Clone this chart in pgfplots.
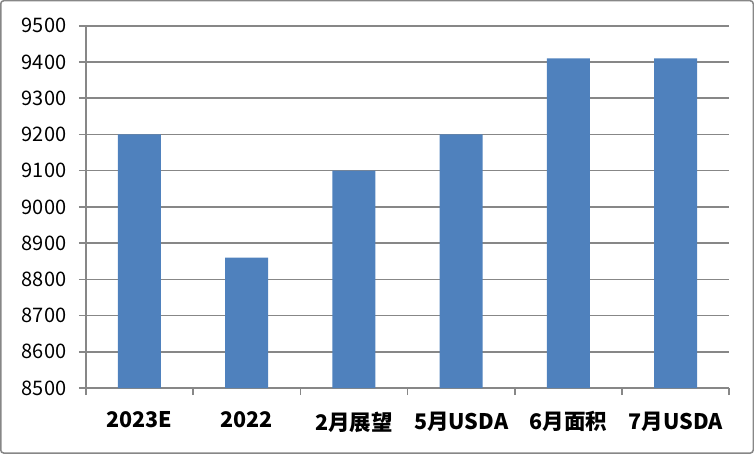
\documentclass[border=0pt]{standalone}
\usepackage{pgfplots}
\pgfplotsset{compat=1.18}
\usepackage{fontspec}
\setmainfont{Noto Sans CJK SC}
\definecolor{barblue}{HTML}{4F81BD}
\definecolor{gridgray}{HTML}{878787}
\begin{document}
\begin{tikzpicture}[x=1pt,y=1pt]
  % outer frame
  \draw[gridgray, line width=1.5pt, rounded corners=3pt] (1,1) rectangle (753,453);
  \begin{axis}[
    at={(86pt,66pt)}, anchor=south west,
    scale only axis, width=643pt, height=362pt,
    ymin=8500, ymax=9500, ytick distance=100,
    xmin=-0.5, xmax=5.5,
    xtick={0,1,2,3,4,5},
    xticklabels={2023E,2022,2月展望,5月USDA,6月面积,7月USDA},
    minor xtick={-0.5,0.5,1.5,2.5,3.5,4.5,5.5},
    axis lines=left, axis line style={-, gridgray, line width=1.5pt},
    ymajorgrids, grid style={gridgray, line width=1.5pt},
    tick align=outside,
    major tick length=7pt, minor tick length=7pt,
    xtick style={draw=none},
    minor x tick style={draw=gridgray, line width=1.5pt},
    ytick style={gridgray, line width=1.5pt},
    /pgf/number format/assume math mode=true,
    /pgf/number format/1000 sep={},
    yticklabel style={font=\fontsize{20}{22}\selectfont, black, xshift=-9pt},
    xticklabel style={font=\fontsize{21.5}{24}\selectfont\bfseries, black, yshift=-13pt},
    ybar, bar width=43pt,
    clip=false,
  ]
    \addplot[fill=barblue, draw=none] coordinates {
      (0,9200) (1,8860) (2,9100) (3,9200) (4,9410) (5,9410)
    };
  \end{axis}
\end{tikzpicture}
\end{document}
